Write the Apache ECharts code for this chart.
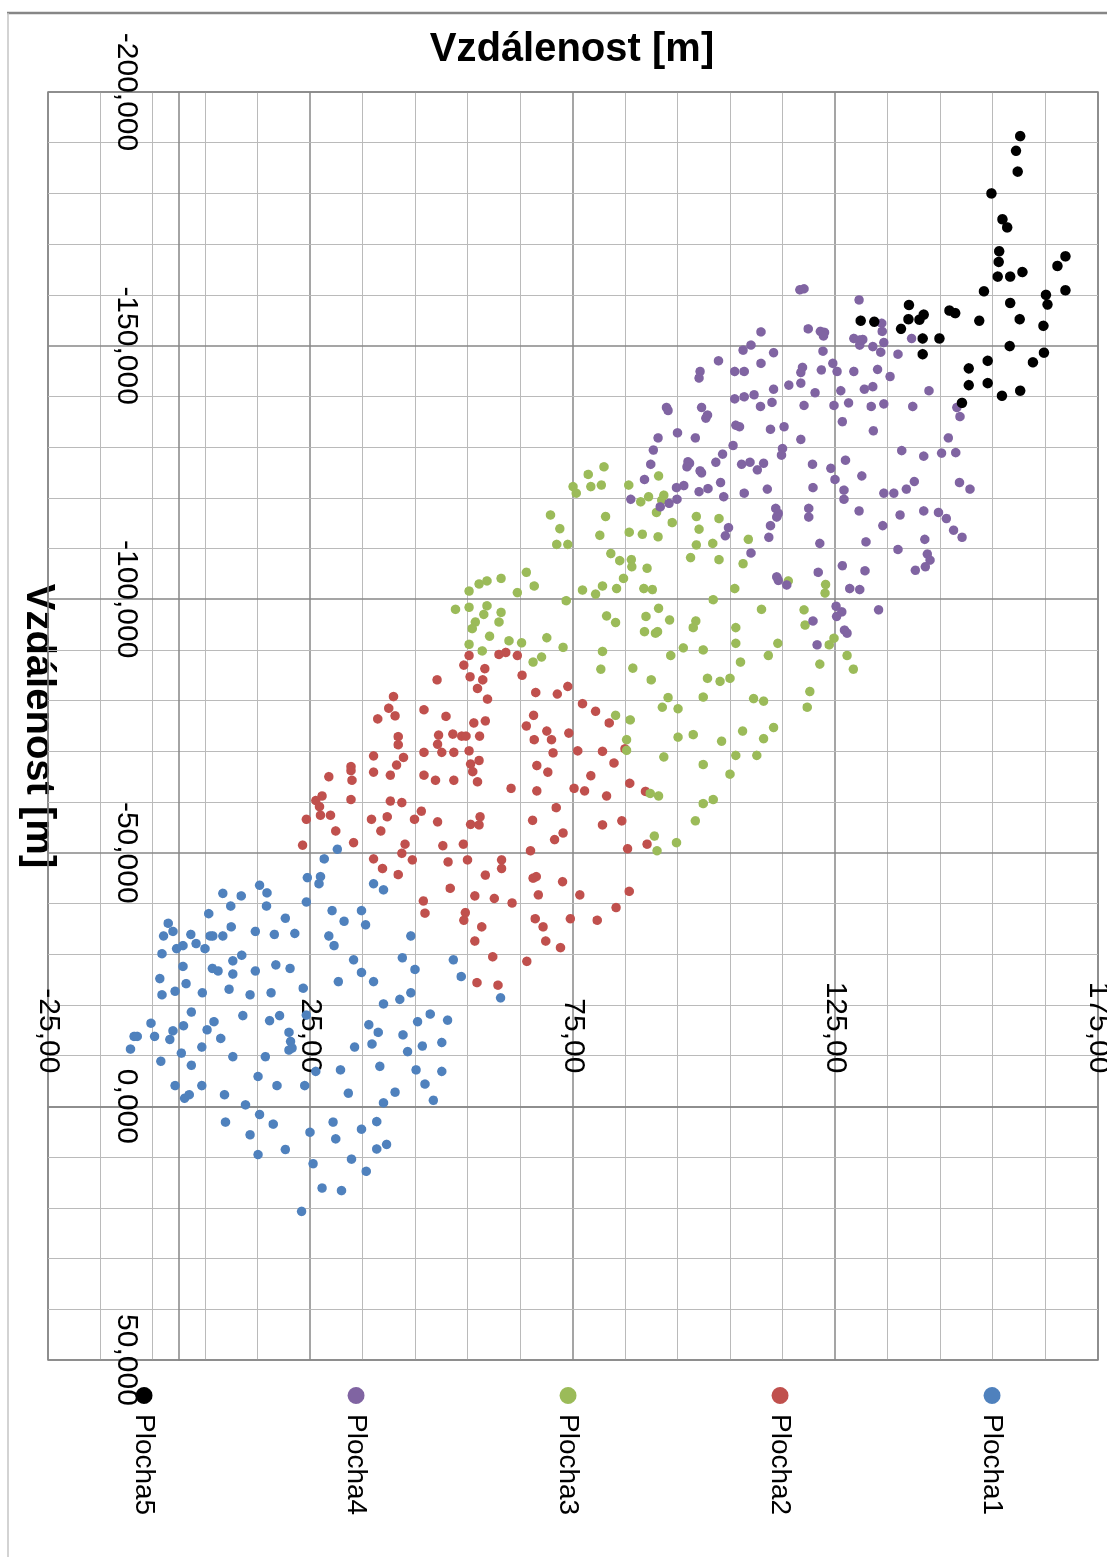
<!DOCTYPE html>
<html>
<head>
<meta charset="utf-8">
<title>Vzdálenost</title>
<script src="https://cdn.jsdelivr.net/npm/echarts@6/dist/echarts.min.js"></script>
<style>
  html, body { margin: 0; padding: 0; background: #fff; overflow: hidden; }
  #wrap { position: absolute; left: 0; top: 0; width: 1107px; height: 1557px; overflow: hidden; }
  /* graf je v originale otočený o 90° doprava */
  #chart { position: absolute; left: 0; top: 0; width: 1557px; height: 1107px;
           transform-origin: 0 0; transform: translate(1107px, 0) rotate(90deg); }
</style>
</head>
<body>
<div id="wrap"><div id="chart"></div></div>
<script>
// názvy řad
const seriesNames = ["Plocha1", "Plocha2", "Plocha3", "Plocha4", "Plocha5"];
const seriesColors = ["#4F81BD", "#C0504D", "#9BBB59", "#8064A2", "#000000"];
const axisTitle = "Vzdálenost [m]";

// [x, y] v metrech
const plocha1 = [
  [-50.7,30.1],[-48.8,27.6],[-45.1,24.4],[-45.3,26.9],
  [-28.9,52.2],[-25.6,53.7],[-21.4,61.2],
  [-43.9,26.6],[-43.9,37.0],[-42.7,38.9],[-40.3,24.2],[-43.6,15.3],[-42.1,16.7],[-39.5,16.6],[-41.5,11.8],[-42.0,8.3],
  [-39.5,9.8],[-38.0,5.6],[-36.1,-2.1],[-34.5,-1.2],[-33.6,-3.0],[-33.9,2.2],[-33.6,5.9],[-33.6,6.4],[-33.6,8.3],
  [-35.4,9.9],[-34.5,14.5],[-33.9,18.1],[-37.1,20.2],[-34.1,22.0],[-38.6,29.1],[-36.5,31.4],[-38.6,34.7],[-35.8,35.5],
  [-33.6,28.5],[-31.7,29.5],[-33.6,44.1],[-29.3,42.5],[-27.0,44.9],[-28.9,33.2],[-26.4,34.7],[-24.6,37.0],[-24.6,30.3],
  [-23.3,23.6],[-22.4,17.5],[-27.2,21.1],[-27.9,18.4],[-26.7,14.5],[-29.8,11.9],[-28.7,10.2],[-26.1,10.2],[-27.2,6.3],
  [-26.7,7.4],[-27.6,0.7],[-31.1,-0.5],[-31.7,0.7],[-32.1,3.2],[-31.1,4.9],[-30.1,-3.3],[-25.2,-3.7],[-24.2,1.3],
  [-22.0,-3.3],[-22.7,-0.8],[-22.4,4.4],[-23.1,9.5],[-22.0,13.5],[-22.4,44.1],[-21.1,42.0],[-20.2,38.9],
  [-18.6,2.3],[-17.9,12.1],[-16.4,-5.4],[-15.9,0.8],[-16.7,6.6],[-15.1,5.3],[-14.9,-1.2],[-13.2,-1.8],[-13.8,-8.6],
  [-13.8,-8.0],[-13.8,-4.7],[-11.3,-9.3],[-13.4,7.9],[-11.7,4.3],[-10.5,0.4],[-8.9,-3.5],[-8.1,2.3],[-9.8,10.2],
  [-16.9,17.2],[-17.9,19.1],[-9.8,16.4],[-14.6,20.9],[-12.8,21.2],[-11.1,20.9],[-11.5,21.5],[-18.0,24.2],[-16.1,36.1],
  [-14.6,37.9],[-11.7,33.4],[-12.3,36.7],[-14.1,42.6],[-10.8,43.5],[-16.7,45.4],[-18.2,47.8],[-17.0,51.1],[-11.9,46.3],
  [-12.6,50.0],[-7.2,45.1],[-6.9,50.0],[-4.4,46.8],[-1.2,48.4],[-7.9,38.2],[-2.8,41.1],[-0.7,38.9],[-2.6,32.2],
  [-7.2,30.7],[-6.9,26.0],[-4.1,23.9],[-4.1,18.6],[-5.9,15.0],[-2.3,8.6],[-0.3,12.6],[-4.1,4.3],[-4.1,-0.8],
  [-1.6,1.0],[-2.3,1.9],[3.1,8.8],[1.6,15.3],[3.5,17.9],[5.6,13.5],[9.5,15.0],[8.5,20.2],[5.1,24.9],[11.3,25.5],
  [3.1,29.3],[6.4,29.8],[4.5,34.7],[3.0,37.6],[8.4,37.6],[7.5,39.5],[10.4,32.8],[12.8,35.6],[16.1,27.2],[16.6,30.9],
  [20.7,23.3]
];

const plocha2 = [
  [-88.9,55.2],[-89.1,60.9],[-89.5,62.2],[-88.9,64.4],[-87.0,54.2],[-86.3,58.2],[-84.1,49.1],[-84.7,55.4],[-84.1,57.8],
  [-85.0,65.3],[-82.4,56.8],[-80.3,58.7],[-81.6,67.9],[-81.3,72.0],[-82.8,74.0],[-79.4,76.8],[-77.9,79.3],[-76.9,50.8],
  [-75.6,56.1],[-76.0,58.3],[-77.1,67.5],[-75.0,66.1],[-74.0,70.0],[-73.6,74.2],[-73.2,49.4],[-73.4,52.1],[-73.0,53.8],
  [-73.0,54.6],[-73.0,57.2],[-72.3,67.6],[-72.3,70.9],
  [-75.6,81.9],[-70.0,80.6],[-70.5,84.9],[-67.7,82.8],[-65.2,78.4],[-63.7,85.8],[-62.1,88.8],[-61.2,81.4],[-55.5,80.6],
  [-56.3,84.3],[-51.7,89.1],[-50.8,85.4],
  [-80.8,40.8],[-78.5,39.9],[-76.4,37.8],[-77.0,41.1],[-78.2,46.6],[-72.9,41.7],[-71.3,41.7],
  [-71.4,49.2],[-69.8,46.6],[-69.8,50.0],[-69.8,52.3],[-70.1,55.2],[-68.2,57.1],[-67.5,55.5],[-66.0,55.9],[-64.0,56.8],
  [-64.3,52.3],[-64.3,48.8],[-65.3,46.6],[-69.1,37.0],[-68.8,42.7],[-67.3,41.4],[-65.9,37.0],[-65.3,40.2],[-67.0,32.7],
  [-66.2,32.7],[-64.3,32.9],[-65.0,28.5],[-61.2,27.2],[-60.3,26.0],[-59.1,26.7],[-57.4,26.9],[-57.4,28.8],[-56.6,24.2],
  [-54.3,29.8],[-51.5,23.5],[-52.0,33.2],[-60.5,32.7],[-60.2,40.2],[-59.9,42.4],[-56.6,36.6],[-57.1,39.6],[-54.3,38.4],
  [-56.6,44.8],[-58.2,46.1],[-56.1,49.2],[-51.7,43.0],[-49.9,42.4],[-48.8,37.0],[-46.9,38.7],[-45.7,41.7],[-48.6,44.4],
  [-51.4,50.2],[-51.7,54.1],[-48.2,51.2],[-48.6,54.9],[-55.6,55.5],[-55.5,57.1],[-57.1,57.3],[-48.6,61.4],[-46.9,61.4],
  [-62.7,63.2],[-67.2,68.1],[-65.9,70.2],[-62.2,68.1],[-69.7,71.2],[-62.7,75.2],[-62.2,77.2],[-70.1,75.9],[-58.9,71.8],
  [-56.4,67.3],[-53.9,73.1],[-52.6,71.5],[-50.4,66.9],
  [-45.6,58.3],[-43.0,51.6],[-41.5,56.3],[-41.0,60.0],[-40.1,63.4],[-45.0,67.4],[-45.3,68.0],[-44.3,73.0],[-41.7,68.4],
  [-41.7,76.3],[-42.4,85.7],[-39.2,83.2],[-36.7,79.6],[-37.0,74.5],[-37.0,67.8],[-35.4,69.3],[-32.6,69.8],[-31.3,72.6],
  [-38.2,54.5],[-36.7,54.2],[-35.4,57.6],[-32.6,56.3],[-29.5,59.7],[-28.6,66.2],[-24.4,56.7],[-23.9,60.7],
  [-40.5,46.5],[-38.1,46.8]
];

const plocha3 = [
  [-126.1,80.9],[-122.5,80.4],[-124.3,91.3],[-122.5,85.6],[-119.2,87.9],[-120.2,89.4],[-120.5,92.3],[-119.5,91.9],
  [-117.1,90.9],[-115.1,93.9],[-116.3,81.2],[-112.6,80.1],[-113.2,85.7],[-112.8,88.2],[-112.3,91.2],[-116.3,98.5],
  [-113.8,99.0],[-115.9,102.8],[-110.7,98.5],[-111.0,101.6],[-111.8,108.4],[-109.0,82.2],[-107.6,83.9],[-107.8,86.1],
  [-106.4,86.2],[-106.1,89.1],[-108.2,97.4],[-107.8,102.8],[-107.0,107.4],[-104.1,84.6],[-102.6,80.6],[-102.1,83.3],
  [-102.1,88.5],[-101.9,90.1],[-102.1,105.8],[-103.6,116.0],[-102.9,123.1],
  [-124.6,77.9],[-122.2,75.0],[-120.9,75.6],[-122.2,78.4],[-116.6,70.7],[-113.9,72.5],[-110.8,71.9],[-110.8,74.0],
  [-105.3,66.1],[-102.6,67.6],[-101.3,64.4],[-104.1,61.3],[-103.0,57.1],[-103.6,58.6],[-101.6,55.2],[-101.8,76.8],
  [-101.0,79.3],[-99.7,73.7],[-98.0,52.6],[-98.4,55.2],[-98.7,58.6],[-97.0,58.0],[-97.4,61.3],[-95.5,56.4],[-94.2,55.8],
  [-95.5,60.9],[-92.7,59.1],[-91.1,55.2],[-89.8,57.7],[-91.8,62.8],[-91.4,65.2],[-92.4,70.0],[-90.5,73.1],[-87.6,67.4],
  [-88.6,69.0],
  [-101.2,123.0],[-99.9,101.7],[-98.0,110.9],[-97.9,119.0],[-98.2,91.3],[-96.7,81.4],[-95.4,83.1],[-96.6,88.9],
  [-95.9,93.4],[-95.7,98.4],[-94.4,97.9],[-93.6,88.6],[-93.3,90.7],[-93.6,91.1],[-94.4,106.0],[-91.3,106.0],[-94.9,119.2],
  [-91.3,114.0],[-92.3,124.7],[-91.0,123.8],[-89.7,80.6],[-90.4,96.0],[-90.0,99.8],[-88.9,93.6],[-88.9,112.2],
  [-87.6,106.9],[-88.9,127.2],[-87.2,122.0],[-86.2,128.4],[-86.2,80.3],[-86.4,86.4],[-84.1,89.9],[-84.4,100.6],
  [-83.8,103.0],[-84.4,104.9],[-80.6,93.1],[-80.7,99.8],[-80.4,109.4],[-79.9,111.3],[-81.8,120.1],[-78.7,119.6],
  [-78.7,92.0],[-78.4,95.0],[-77.1,83.1],[-76.2,85.9],[-72.3,85.2],[-70.2,85.2],[-72.8,95.0],[-73.3,97.9],[-72.0,103.3],
  [-74.0,107.3],[-72.5,111.3],[-74.7,113.2],[-69.2,106.0],[-69.2,110.0],[-68.9,92.3],[-67.4,99.8],[-65.5,104.9],
  [-61.7,89.7],[-61.2,91.3],[-59.7,99.8],[-60.5,101.7],[-56.3,98.3],[-53.3,90.5],[-52.0,94.7],[-50.4,91.0]
];

const plocha4 = [
  [-161.0,118.2],[-161.2,119.0],[-159.0,129.5],[-152.7,110.8],[-153.3,119.8],[-152.8,122.1],[-152.6,122.9],[-151.9,122.7],
  [-154.4,133.8],[-152.8,133.9],[-150.6,134.2],[-151.4,128.5],[-151.1,129.6],[-151.2,130.2],[-150.1,129.6],[-149.8,132.1],
  [-148.7,133.6],[-151.4,139.5],[-148.3,136.9],[-148.6,113.2],[-146.5,110.8],[-148.9,122.6],[-146.5,124.5],[-144.9,125.3],
  [-145.7,118.7],[-144.7,118.4],[-145.2,122.3],[-144.9,128.5],[-145.3,133.0],[-143.9,135.4],[-142.2,116.1],[-142.6,118.4],
  [-141.4,113.2],[-140.7,121.1],[-141.1,126.0],[-141.4,130.5],[-141.9,132.1],[-141.1,142.8],[-138.8,112.9],[-138.2,119.0],
  [-138.2,124.7],[-138.7,127.5],[-138.0,131.8],[-138.5,134.2],[-138.0,139.7],[-137.8,148.1],
  [-150.1,108.9],[-149.1,107.4],[-147.0,102.7],[-144.9,99.2],[-143.6,99.0],[-144.9,105.8],[-144.9,107.6],[-140.3,109.5],
  [-139.9,107.6],[-139.5,105.8],[-138.0,110.7],
  [-137.8,92.8],[-137.2,93.1],[-137.8,99.5],[-136.3,100.6],[-135.7,100.3],[-132.8,94.9],[-131.8,91.2],[-131.8,98.3],
  [-134.3,106.0],[-134.0,106.7],[-133.5,112.6],[-134.0,115.2],[-131.5,118.4],[-135.0,126.3],[-133.2,132.2],[-136.0,148.7],
  [-131.8,146.5],[-129.4,90.3],[-130.3,105.5],[-129.7,114.9],[-128.4,114.7],[-128.6,103.5],[-127.0,102.2],[-127.1,96.9],
  [-126.8,97.2],[-126.1,96.7],[-125.3,99.2],[-124.9,99.5],[-126.6,89.8],[-123.6,88.6],[-126.6,107.1],[-127.0,108.7],
  [-126.8,111.3],[-125.5,110.1],[-126.6,120.6],[-125.8,124.1],[-123.6,124.9],[-127.4,126.9],[-124.3,130.0],[-129.3,137.6],
  [-128.2,141.8],[-128.8,145.2],[-128.9,147.9],[-123.0,148.6],[-121.7,150.6],[-123.2,140.0],[-121.7,138.5],[-120.9,134.2],
  [-120.9,136.1],[-121.5,126.6],[-119.7,126.6],[-122.0,120.7],[-121.7,112.0],[-120.9,107.6],[-120.2,103.7],[-123.0,103.1],
  [-121.8,100.7],[-121.2,99.0],[-122.0,94.7],[-122.4,96.1],[-119.7,94.8],[-119.7,86.0],[-118.9,93.3],[-118.2,91.6],
  [-117.9,113.6],[-116.9,114.1],[-116.2,113.8],[-117.9,119.9],[-116.2,119.9],[-114.5,112.6],[-112.2,112.3],[-114.1,104.6],
  [-112.5,104.0],[-117.4,129.5],[-114.5,134.0],[-116.6,137.3],[-117.4,141.8],[-117.1,144.6],[-115.9,146.1],[-113.6,147.5],
  [-112.2,149.1],[-111.8,142.0],[-111.0,122.0],[-111.3,130.8],[-109.8,136.9],[-108.9,142.5],[-107.7,143.0],[-106.4,142.1],
  [-105.7,140.2],[-106.6,126.3],[-105.6,130.6],[-105.3,121.7],[-109.1,108.9],[-104.4,113.8],[-103.7,114.1],[-102.8,115.7],
  [-102.1,127.7],[-101.9,129.6],
  [-98.6,125.1],[-97.5,126.2],[-96.6,125.2],[-97.9,133.2],[-95.7,120.7],[-93.9,126.7],[-93.3,127.2],[-91.0,121.5]
];

const plocha5 = [
  [-191.3,160.2],[-188.4,159.4],[-184.3,159.7],[-180.0,154.7],[-174.9,156.8],[-173.3,157.7],[-168.6,156.2],[-166.5,156.1],
  [-163.6,155.9],[-163.6,158.3],[-164.5,160.6],[-167.6,168.8],[-165.7,167.3],[-160.9,168.8],[-160.0,165.1],[-158.1,165.4],
  [-160.7,153.3],[-158.4,158.3],[-155.2,160.1],[-154.9,152.4],[-153.9,164.6],[-156.9,146.7],[-156.4,147.8],[-158.0,139.0],
  [-155.2,138.9],[-155.1,141.0],[-156.1,141.8],[-153.3,137.5],[-151.4,141.6],[-151.4,144.8],[-154.9,129.8],[-154.7,132.4],
  [-149.9,158.2],[-148.3,141.6],[-147.0,154.0],[-145.5,150.4],[-148.6,164.7],[-146.7,162.6],[-142.2,150.4],[-142.6,154.0],
  [-140.1,156.7],[-141.1,160.2],[-138.7,149.1]
];

const allData = [plocha1, plocha2, plocha3, plocha4, plocha5];

let chart = echarts.init(document.getElementById("chart"));
const font = "'Liberation Sans', Arial, sans-serif";
const major = "#878787";
const minor = "#bababa";

let option = {
  animation: false,
  backgroundColor: "#fff",
  grid: {
    left: 92, right: 197, top: 9, bottom: 48,
    containLabel: false, outerBoundsMode: "none",
    show: true, borderColor: major, borderWidth: 1.5
  },
  xAxis: {
    type: "value",
    min: -200, max: 50, interval: 50,
    axisLine: { onZero: false, lineStyle: { color: major, width: 1.5 } },
    axisTick: { show: false },
    minorTick: { show: false, splitNumber: 5 },
    axisLabel: {
      margin: 38, color: "#000", fontSize: 30, fontFamily: font,
      formatter: function (v) { return v.toFixed(3).replace(".", ","); }
    },
    splitLine: { lineStyle: { color: major, width: 1.5 } },
    minorSplitLine: { show: true, lineStyle: { color: minor, width: 1 } }
  },
  yAxis: {
    type: "value",
    min: -25, max: 175, interval: 50,
    axisLine: { onZero: false, lineStyle: { color: major, width: 1.5 } },
    axisTick: { show: false },
    minorTick: { show: false, splitNumber: 5 },
    axisLabel: {
      margin: 33, color: "#000", fontSize: 30, fontFamily: font,
      formatter: function (v) { return v.toFixed(2).replace(".", ","); }
    },
    splitLine: { lineStyle: { color: major, width: 1.5 } },
    minorSplitLine: { show: true, lineStyle: { color: minor, width: 1 } }
  },
  legend: {
    orient: "vertical",
    left: 1382, top: 96,
    itemWidth: 27, itemHeight: 17, itemGap: 184,
    icon: "circle",
    textStyle: { color: "#000", fontSize: 28, fontFamily: font },
    data: seriesNames
  },
  graphic: [
    { type: "line", shape: { x1: 13, y1: 0, x2: 13, y2: 1100 }, style: { stroke: "#868686", lineWidth: 2.5 } },
    { type: "line", shape: { x1: 13, y1: 1099, x2: 1557, y2: 1099 }, style: { stroke: "#c4c4c4", lineWidth: 1.5 } },
    {
      type: "text", x: 50, y: 535, rotation: Math.PI / 2,
      style: { text: axisTitle, fill: "#000", font: "bold 40px " + font, align: "center", verticalAlign: "middle" }
    },
    {
      type: "text", x: 726, y: 1069,
      style: { text: axisTitle, fill: "#000", font: "bold 40px " + font, align: "center", verticalAlign: "middle" }
    }
  ],
  series: seriesNames.map(function (name, i) {
    return {
      name: name,
      type: "scatter",
      symbol: "circle",
      symbolSize: i === 4 ? 10.5 : 9.5,
      itemStyle: { color: seriesColors[i], opacity: 1 },
      data: allData[i]
    };
  })
};
option && chart.setOption(option);

// osy se kříží v nule – posunout osy (čáru i popisky) dovnitř mřížky
let corner = chart.convertToPixel({ gridIndex: 0 }, [-200, -25]);
let zero = chart.convertToPixel({ gridIndex: 0 }, [0, 0]);
chart.setOption({
  xAxis: { offset: zero[1] - corner[1] },
  yAxis: { offset: corner[0] - zero[0] }
});
</script>
</body>
</html>
